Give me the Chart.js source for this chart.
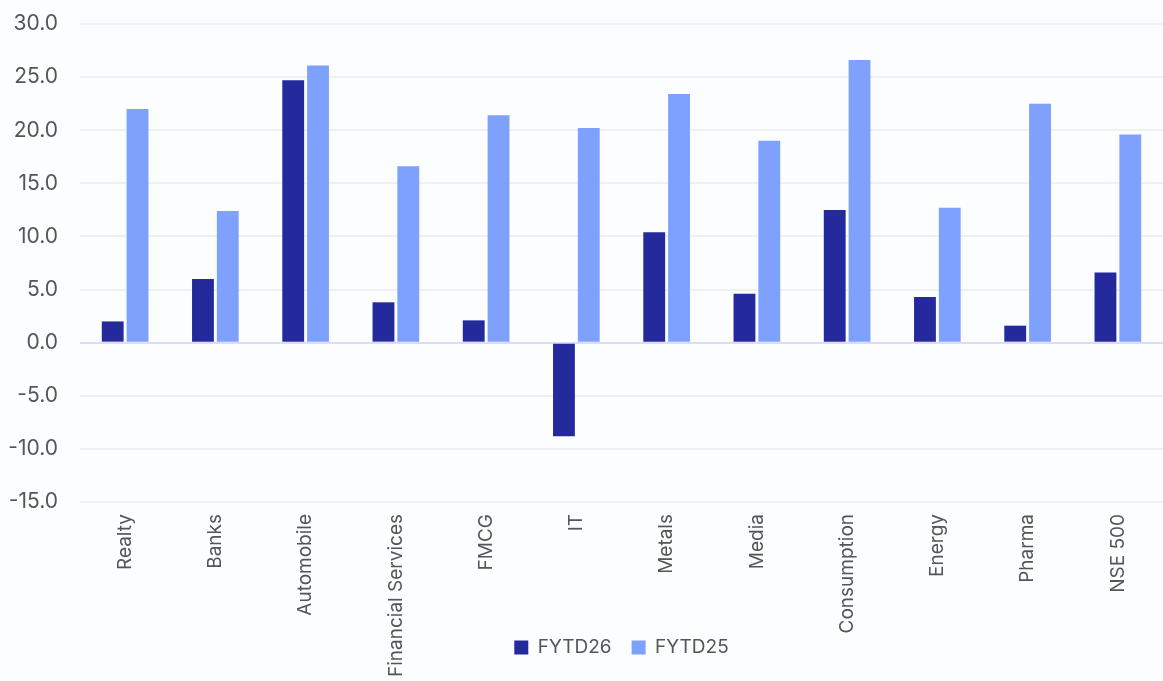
<!DOCTYPE html>
<html>
<head>
<meta charset="utf-8">
<script src="https://cdn.jsdelivr.net/npm/chart.js@4"></script>
<style>
    html, body { margin: 0; padding: 0; background: #fbfdfe; }
    #wrap { width: 1163px; height: 681px; }
</style>
</head>
<body>
<div id="wrap"><canvas id="sectorChart"></canvas></div>
<script>
// sector returns, %
const categories = ['Realty', 'Banks', 'Automobile', 'Financial Services', 'FMCG', 'IT',
    'Metals', 'Media', 'Consumption', 'Energy', 'Pharma', 'NSE 500'];
const fytd26 = [2.0, 6.0, 24.7, 3.8, 2.1, -8.8, 10.4, 4.6, 12.5, 4.3, 1.6, 6.6];
const fytd25 = [22.0, 12.4, 26.1, 16.6, 21.4, 20.2, 23.4, 19.0, 26.6, 12.7, 22.5, 19.6];
const yMin = -15, yMax = 30, yStep = 5;

const ctx = document.getElementById('sectorChart').getContext('2d');

new Chart(ctx, {
    type: 'bar',
    data: {
        labels: categories,
        datasets: [{
            label: 'FYTD26',
            data: fytd26,
            backgroundColor: '#24299c',
            categoryPercentage: 0.55,
            barPercentage: 0.88
        }, {
            label: 'FYTD25',
            data: fytd25,
            backgroundColor: '#7ea1fe',
            categoryPercentage: 0.55,
            barPercentage: 0.88
        }]
    },
    options: {
        responsive: true,
        maintainAspectRatio: false,
        animation: false,
        layout: { padding: { top: 0, right: 0, left: 0, bottom: 14 } },
        plugins: {
            legend: {
                position: 'bottom',
                fullSize: false,
                labels: {
                    color: '#555',
                    boxWidth: 14,
                    boxHeight: 14,
                    padding: 20,
                    font: { size: 19, family: 'Inter' }
                }
            },
            tooltip: { enabled: false }
        },
        scales: {
            y: {
                min: yMin,
                max: yMax,
                ticks: {
                    stepSize: yStep,
                    color: '#555',
                    padding: 22,
                    font: { size: 21, family: 'Inter' },
                    callback: v => v.toFixed(1)
                },
                afterFit: s => {
                    s.width = 80;
                    // tick padding would otherwise push the top gridline down
                    s.paddingTop = 24;
                    s.paddingBottom = 12;
                },
                border: { display: false },
                grid: {
                    drawTicks: false,
                    color: c => c.tick.value === 0 ? '#dcdcf4' : '#f0f0f4',
                    lineWidth: 2
                }
            },
            x: {
                ticks: {
                    color: '#555',
                    maxRotation: 90,
                    minRotation: 90,
                    padding: 12,
                    font: { size: 19, family: 'Inter' }
                },
                // labels run down behind the legend, as in the original
                afterFit: s => {
                    s.height = 116;
                    s._computeLabelArea = () => undefined;
                },
                border: { display: false },
                grid: { display: false, drawTicks: false }
            }
        }
    }
});
</script>
</body>
</html>
